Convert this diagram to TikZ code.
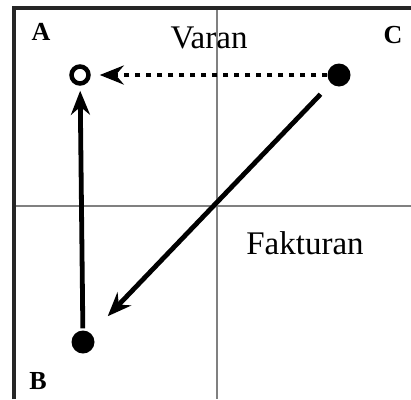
\documentclass[tikz,border=0pt]{standalone}
\usepackage{fontspec}
\setmainfont{Liberation Serif}
\usepackage{tikz}
\usetikzlibrary{positioning, arrows.meta}

\begin{document}
\begin{tikzpicture}[
        x=1pt, y=-1pt,
        frameline/.style = {line width=4pt, black!85},
        axisline/.style = {line width=2.2pt, black!50},
        fulldot/.style = {circle, fill=black, minimum size=23pt, inner sep=0},
        opendot/.style = {circle, draw=black, line width=4.5pt, fill=white, minimum size=17pt, inner sep=0},
        corner/.style = {font=\fontsize{26}{28}\selectfont\bfseries, inner sep=0},
        axislabel/.style = {font=\fontsize{33}{36}\selectfont, inner sep=0},
        arrow/.style = {-{Stealth[length=24pt, width=19pt, inset=8pt]}, line width=4.8pt},
        dotarrow/.style = {arrow, dash pattern=on 5pt off 6pt},
    ]
        \useasboundingbox (0,0) rectangle (411,399);
        % quadrant lines
        \draw[axisline] (217,8) -- (217,399);
        \draw[axisline] (14,206) -- (411,206);
        \draw[frameline] (14,399) -- (14,8) -- (411,8);
        % labels
        \node[corner] (labA) at (41,32) {A};
        \node[corner] (labC) at (393,35) {C};
        \node[corner] (labB) at (38,381) {B};
        \node[axislabel] (varan) at (209,38) {Varan};
        \node[axislabel] (fakt) at (305,243) {Fakturan};
        % points
        \node[opendot] (ptA) at (80,75) {};
        \node[fulldot] (ptC) at (339,75) {};
        \node[fulldot] (ptB) at (83,342) {};
        % moves
        \draw[dotarrow, shorten >=9pt] (ptC) -- (ptA);
        \draw[arrow, shorten <=2pt, shorten >=5pt] (ptB) -- (ptA);
        \draw[arrow, shorten <=15pt, shorten >=24pt] (ptC) -- (ptB);
    \end{tikzpicture}
\end{document}
